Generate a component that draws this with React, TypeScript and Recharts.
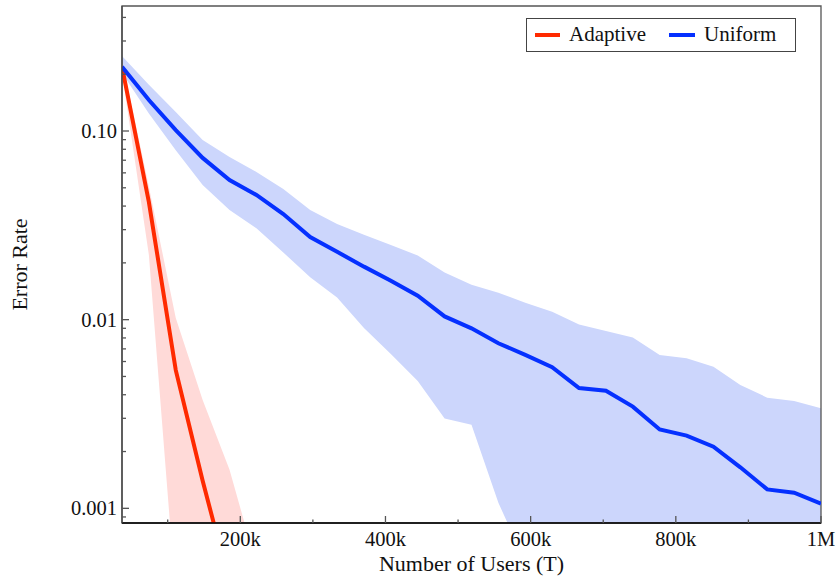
import React from "react";
import { ComposedChart, Line, Area, XAxis, YAxis, ReferenceArea } from "recharts";

// number of users T at each evaluation step
const users = [
  37037, 74074, 111111, 148148, 185185, 222222, 259259, 296296, 333333,
  370370, 407407, 444444, 481481, 518519, 555556, 592593, 629630, 666667,
  703704, 740741, 777778, 814815, 851852, 888889, 925926, 962963, 1000000,
];

const adaptive = [0.219, 0.042, 0.0054, 0.0014, 0.0004, null, null, null, null,
  null, null, null, null, null, null, null, null, null,
  null, null, null, null, null, null, null, null, null];
const adaptiveLow = [0.203, 0.022, 0.00034, 0.0001, 0.0001, 0.0001, null, null, null,
  null, null, null, null, null, null, null, null, null,
  null, null, null, null, null, null, null, null, null];
const adaptiveHigh = [0.238, 0.0507, 0.0102, 0.00375, 0.0016, 0.0005, null, null, null,
  null, null, null, null, null, null, null, null, null,
  null, null, null, null, null, null, null, null, null];

const uniform = [0.219, 0.146, 0.101, 0.072, 0.055, 0.0458, 0.0363, 0.0274, 0.0229,
  0.0191, 0.0161, 0.0134, 0.0104, 0.009, 0.0075, 0.0065, 0.0056, 0.00434,
  0.0042, 0.00346, 0.00262, 0.00243, 0.00212, 0.00165, 0.00126, 0.00121, 0.00106];
const uniformLow = [0.203, 0.124, 0.079, 0.0518, 0.0381, 0.0305, 0.0227, 0.0168, 0.0131,
  0.00903, 0.00658, 0.00473, 0.00299, 0.00277, 0.00107, 0.00052, 0.0002, 0.0002,
  0.0002, 0.0002, 0.0002, 0.0002, 0.0002, 0.0002, 0.0002, 0.0002, 0.0002];
const uniformHigh = [0.25, 0.176, 0.126, 0.0896, 0.0728, 0.0607, 0.0493, 0.0381, 0.0321,
  0.0282, 0.0249, 0.0219, 0.0178, 0.0153, 0.0139, 0.0123, 0.011, 0.00944,
  0.00871, 0.00805, 0.0065, 0.00624, 0.00563, 0.00451, 0.00386, 0.00371, 0.00339];

const xTicks = [100000, 200000, 300000, 400000, 500000, 600000, 700000, 800000, 900000, 1000000];
const xMajor = [200000, 400000, 600000, 800000, 1000000];
const yTicks = [0.0009, 0.001, 0.002, 0.003, 0.004, 0.005, 0.006, 0.007, 0.008, 0.009,
  0.01, 0.02, 0.03, 0.04, 0.05, 0.06, 0.07, 0.08, 0.09, 0.1, 0.2, 0.3, 0.4];
const yLabels: Record<string, string> = { "0.001": "0.001", "0.01": "0.01", "0.1": "0.10" };

const X_MIN = 37037;
const X_MAX = 1000000;
const Y_MIN = 0.000836;
const Y_MAX = 0.4598;

const RED = "#ff2a00";
const BLUE = "#0530ff";
const RED_BAND = "#ffdad8";
const BLUE_BAND = "#ccd6fc";
const FONT = "'Liberation Serif', 'Times New Roman', serif";

const data = users.map((T, i) => ({
  T,
  adaptive: adaptive[i],
  uniform: uniform[i],
  adaptiveBand: adaptiveLow[i] != null && adaptiveHigh[i] != null ? [adaptiveLow[i], adaptiveHigh[i]] : null,
  uniformBand: [uniformLow[i], uniformHigh[i]],
}));

const fmtX = (v: number) => (v >= 1000000 ? `${v / 1000000}M` : `${v / 1000}k`);

const XTick = (props: any) => {
  const { x, y, payload } = props;
  const major = xMajor.includes(payload.value);
  return (
    <g>
      <line x1={x} x2={x} y1={y} y2={y - (major ? 7 : 3.5)} stroke="#555" strokeWidth={1.3} />
      {major && (
        <text x={x} y={y + 23} textAnchor="middle" fontFamily={FONT} fontSize={20.5} fill="#111">
          {fmtX(payload.value)}
        </text>
      )}
    </g>
  );
};

const YTick = (props: any) => {
  const { x, y, payload } = props;
  const label = yLabels[String(payload.value)];
  return (
    <g>
      <line x1={x} x2={x + (label ? 7 : 4)} y1={y} y2={y} stroke="#555" strokeWidth={1.3} />
      {label && (
        <text x={x - 5} y={y} dy="0.35em" textAnchor="end" fontFamily={FONT} fontSize={20.5} fill="#111">
          {label}
        </text>
      )}
    </g>
  );
};

const Legend = () => (
  <div
    style={{
      position: "absolute",
      left: 526,
      top: 18,
      width: 270,
      height: 34,
      border: "1.3px solid #444",
      boxSizing: "border-box",
      background: "#fff",
      fontFamily: FONT,
      fontSize: 21,
      color: "#111",
    }}
  >
    <div style={{ position: "absolute", left: 8, top: 13.5, width: 25, height: 4, background: RED }} />
    <div style={{ position: "absolute", left: 42, top: 0, lineHeight: "31px" }}>Adaptive</div>
    <div style={{ position: "absolute", left: 142, top: 13.5, width: 26, height: 4, background: BLUE }} />
    <div style={{ position: "absolute", left: 177, top: 0, lineHeight: "31px" }}>Uniform</div>
  </div>
);

export default function App() {
  return (
    <div style={{ position: "absolute", left: 0, top: 0, width: 837, height: 576, background: "#fff" }}>
      <ComposedChart width={837} height={576} data={data} margin={{ top: 6, right: 16, bottom: 0, left: 0 }}>
        <XAxis
          dataKey="T"
          type="number"
          domain={[X_MIN, X_MAX]}
          allowDataOverflow
          ticks={xTicks}
          interval={0}
          tickSize={0}
          tickMargin={0}
          tick={<XTick />}
          height={53}
          axisLine={{ stroke: "#000", strokeWidth: 1.3 }}
          label={(p: any) => (
            <text
              x={p.viewBox.x + p.viewBox.width / 2}
              y={571}
              textAnchor="middle"
              fontFamily={FONT}
              fontSize={22}
              fill="#111"
            >
              Number of Users (T)
            </text>
          )}
        />
        <YAxis
          type="number"
          scale="log"
          domain={[Y_MIN, Y_MAX]}
          allowDataOverflow
          ticks={yTicks}
          interval={0}
          tickSize={0}
          tickMargin={0}
          tick={<YTick />}
          width={122}
          axisLine={{ stroke: "#444", strokeWidth: 1.3 }}
          label={(p: any) => {
            const cy = p.viewBox.y + p.viewBox.height / 2;
            return (
              <text
                x={27}
                y={cy}
                transform={`rotate(-90 27 ${cy})`}
                textAnchor="middle"
                fontFamily={FONT}
                fontSize={22}
                fill="#111"
              >
                Error Rate
              </text>
            );
          }}
        />
        <Area
          dataKey="uniformBand"
          type="linear"
          stroke="none"
          fill={BLUE_BAND}
          fillOpacity={1}
          isAnimationActive={false}
        />
        <Area
          dataKey="adaptiveBand"
          type="linear"
          stroke="none"
          fill={RED_BAND}
          fillOpacity={1}
          isAnimationActive={false}
        />
        <Line dataKey="adaptive" type="linear" stroke={RED} strokeWidth={4} dot={false} isAnimationActive={false} />
        <Line dataKey="uniform" type="linear" stroke={BLUE} strokeWidth={4} dot={false} isAnimationActive={false} />
        <ReferenceArea x1={X_MIN} x2={X_MAX} y1={Y_MIN} y2={Y_MAX} fill="none" stroke="#555" strokeWidth={1.3} />
      </ComposedChart>
      <Legend />
    </div>
  );
}
